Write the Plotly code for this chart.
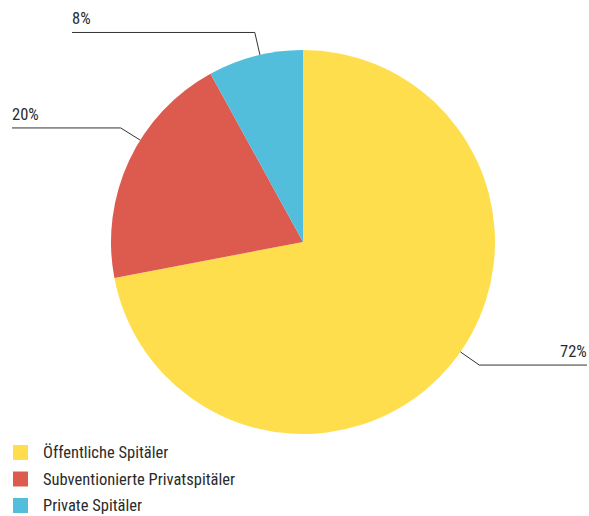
import math
import plotly.graph_objects as go

# ---- data ----
categories = ["Öffentliche Spitäler", "Subventionierte Privatspitäler", "Private Spitäler"]
values = [72, 20, 8]
label_texts = ["72%", "20%", "8%"]
colors = ["#FFDE4D", "#DD5A4F", "#53BDDC"]

# ---- layout constants (pixels) ----
W, H = 589, 516
CX, CY, R = 303, 242, 192
FONT = "Liberation Sans Narrow, Roboto Condensed, Arial Narrow, sans-serif"
TXT = "#2b2b2b"
label_shift = [-1.3, 1.9, 0.4]      # small label-angle nudges (percent of circle)
label_end_x = [587, 12, 72]         # where each horizontal leader ends
elbow_gap = 23

def px(x):
    return x / W

def py(y):
    return 1 - y / H

fig = go.Figure(go.Pie(
    labels=categories, values=values, sort=False, direction="clockwise",
    rotation=0, marker=dict(colors=colors, line=dict(width=0)),
    textinfo="none", hoverinfo="label+percent", showlegend=False,
    domain=dict(x=[px(CX - R), px(CX + R)], y=[py(CY + R), py(CY - R)]),
))

shapes = []
annotations = []
total = sum(values)
cum = 0
for i, v in enumerate(values):
    mid = (cum + v / 2) / total * 100 + label_shift[i]
    cum += v
    th = math.radians(mid / 100 * 360)
    s, c = math.sin(th), -math.cos(th)
    ex, ey = CX + R * s, CY + R * c
    bx, by = CX + (R + elbow_gap) * s, CY + (R + elbow_gap) * c
    endx = label_end_x[i]
    for (x0, y0, x1, y1) in [(ex, ey, bx, by), (bx, by, endx, by)]:
        shapes.append(dict(type="line", xref="paper", yref="paper",
                           x0=px(x0), y0=py(y0), x1=px(x1), y1=py(y1),
                           line=dict(color="#333333", width=1)))
    right = endx > bx
    annotations.append(dict(
        xref="paper", yref="paper", x=px(endx), y=py(by - 2),
        xanchor="right" if right else "left", yanchor="bottom",
        xshift=2 if right else -2,
        text=label_texts[i], showarrow=False,
        font=dict(family=FONT, size=16.5, color=TXT)))

# ---- manual legend ----
leg_x, leg_y0, leg_dy, sq = 13, 452.5, 26.5, 15
for i, cat in enumerate(categories):
    yc = leg_y0 + i * leg_dy
    shapes.append(dict(type="rect", xref="paper", yref="paper",
                       x0=px(leg_x), x1=px(leg_x + sq),
                       y0=py(yc - sq / 2), y1=py(yc + sq / 2),
                       fillcolor=colors[i], line=dict(width=0)))
    annotations.append(dict(
        xref="paper", yref="paper", x=px(41), y=py(yc),
        xanchor="left", yanchor="middle", text=cat, showarrow=False,
        font=dict(family=FONT, size=16.5, color=TXT)))

fig.update_layout(
    width=W, height=H, margin=dict(l=0, r=0, t=0, b=0),
    paper_bgcolor="white", plot_bgcolor="white",
    shapes=shapes, annotations=annotations, showlegend=False,
)

fig.write_html("out.html", config={"displayModeBar": False},
               post_script="document.body.style.margin='0';")
